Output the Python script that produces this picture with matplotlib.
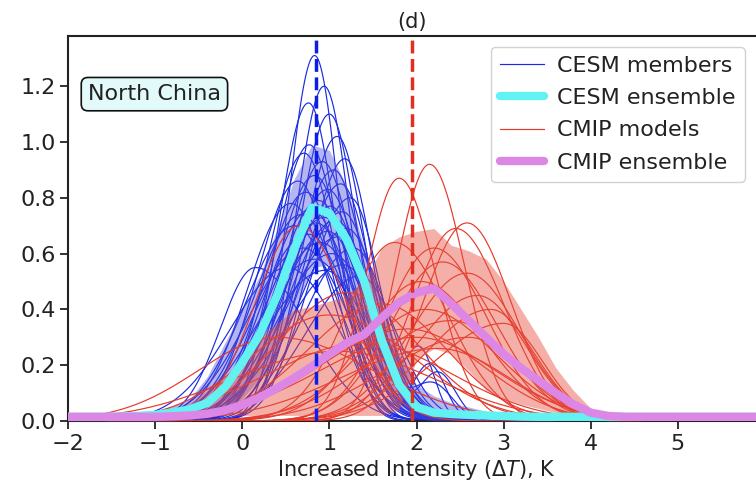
"""Intensity change distributions, North China panel (d)."""

import numpy as np
import matplotlib.pyplot as plt

# ── data ───────────────────────────────────────────────────────────
# ensemble curves and spread bands, tabulated every 0.2 K from -2 to 6
X_GRID = np.round(np.arange(-2.0, 6.01, 0.2), 1)

CESM_ENSEMBLE = [0.015, 0.015, 0.015, 0.016, 0.018,
                 0.022, 0.030, 0.042, 0.065, 0.120,
                 0.210, 0.310, 0.450, 0.620, 0.765,
                 0.745, 0.650, 0.500, 0.290, 0.130,
                 0.050, 0.030, 0.025, 0.022, 0.020,
                 0.018, 0.016, 0.015, 0.015, 0.015,
                 0.015, 0.015, 0.015, 0.015, 0.015,
                 0.015, 0.015, 0.015, 0.015, 0.015, 0.015]
CESM_BAND_HI = [0.015, 0.015, 0.018, 0.020, 0.025,
                0.035, 0.055, 0.080, 0.160, 0.280,
                0.400, 0.520, 0.690, 0.870, 0.990,
                0.970, 0.840, 0.620, 0.420, 0.240,
                0.130, 0.090, 0.065, 0.050, 0.035,
                0.020, 0.012, 0.006, 0.0, 0.0,
                0.0, 0.0, 0.0, 0.0, 0.0,
                0.0, 0.0, 0.0, 0.0, 0.0, 0.0]
CESM_BAND_LO = [0.0, 0.0, 0.0, 0.0, 0.0,
                0.0, 0.0, 0.0, 0.010, 0.030,
                0.080, 0.150, 0.260, 0.400, 0.550,
                0.560, 0.460, 0.320, 0.140, 0.040,
                0.010, 0.0, 0.0, 0.0, 0.0,
                0.0, 0.0, 0.0, 0.0, 0.0,
                0.0, 0.0, 0.0, 0.0, 0.0,
                0.0, 0.0, 0.0, 0.0, 0.0, 0.0]

CMIP_ENSEMBLE = [0.015, 0.015, 0.015, 0.015, 0.015,
                 0.015, 0.017, 0.020, 0.026, 0.038,
                 0.058, 0.085, 0.118, 0.155, 0.195,
                 0.240, 0.280, 0.310, 0.370, 0.425,
                 0.460, 0.475, 0.420, 0.360, 0.300,
                 0.240, 0.190, 0.145, 0.100, 0.060,
                 0.030, 0.018, 0.015, 0.015, 0.015,
                 0.015, 0.015, 0.015, 0.015, 0.015, 0.015]
CMIP_BAND_HI = [0.0, 0.0, 0.0, 0.005, 0.010,
                0.020, 0.035, 0.065, 0.110, 0.160,
                0.220, 0.300, 0.350, 0.400, 0.410,
                0.430, 0.450, 0.500, 0.620, 0.660,
                0.680, 0.690, 0.630, 0.610, 0.580,
                0.500, 0.400, 0.300, 0.190, 0.110,
                0.045, 0.015, 0.005, 0.0, 0.0,
                0.0, 0.0, 0.0, 0.0, 0.0, 0.0]
CMIP_BAND_LO = [0.0, 0.0, 0.0, 0.0, 0.0,
                0.0, 0.0, 0.005, 0.020, 0.020,
                0.020, 0.020, 0.020, 0.020, 0.020,
                0.020, 0.020, 0.020, 0.020, 0.040,
                0.220, 0.260, 0.240, 0.180, 0.110,
                0.080, 0.060, 0.045, 0.030, 0.020,
                0.010, 0.0, 0.0, 0.0, 0.0,
                0.0, 0.0, 0.0, 0.0, 0.0, 0.0]

# individual members: mode (K), peak density, left / right width (K)
CESM_MODE = [0.83, 0.94, 0.76, 1.00, 1.09, 0.77, 0.71, 1.18, 0.92, 1.05,
             0.83, 0.64, 1.13, 0.98, 0.73, 1.24, 0.88, 0.56, 1.01, 0.79,
             1.15, 0.68, 0.94, 1.07, 0.85, 0.60, 1.20, 0.98, 0.75, 1.10,
             0.15, 0.90, 1.28, 0.70, 1.03, 0.83, 1.16, 0.52, 0.95, 1.35]
CESM_PEAK = [1.31, 1.20, 1.14, 1.10, 1.02, 0.99, 0.96, 0.94, 0.93, 0.90,
             0.88, 0.86, 0.85, 0.83, 0.82, 0.80, 0.79, 0.78, 0.77, 0.76,
             0.75, 0.74, 0.73, 0.72, 0.71, 0.70, 0.69, 0.68, 0.67, 0.66,
             0.55, 0.64, 0.62, 0.62, 0.60, 0.58, 0.56, 0.55, 0.54, 0.52]
CESM_SDL = [0.30, 0.33, 0.35, 0.36, 0.40, 0.40, 0.42, 0.42, 0.43, 0.45,
            0.45, 0.47, 0.46, 0.48, 0.48, 0.48, 0.50, 0.50, 0.52, 0.52,
            0.52, 0.54, 0.54, 0.55, 0.56, 0.56, 0.56, 0.58, 0.58, 0.60,
            0.40, 0.60, 0.58, 0.62, 0.62, 0.65, 0.65, 0.65, 0.68, 0.62]
CESM_SDR = [0.28, 0.30, 0.32, 0.33, 0.33, 0.36, 0.38, 0.32, 0.38, 0.36,
            0.40, 0.40, 0.36, 0.40, 0.42, 0.34, 0.42, 0.45, 0.40, 0.44,
            0.38, 0.46, 0.44, 0.42, 0.46, 0.50, 0.40, 0.46, 0.50, 0.44,
            0.60, 0.50, 0.40, 0.52, 0.48, 0.52, 0.45, 0.58, 0.50, 0.42]
# secondary warm humps seen on a few members
CESM_BUMP_MEMBER = [8, 18, 27, 35]
CESM_BUMP_MODE = [2.15, 2.25, 2.05, 2.20]
CESM_BUMP_PEAK = [0.20, 0.17, 0.22, 0.12]
CESM_BUMP_SD = [0.18, 0.20, 0.16, 0.22]

CMIP_MODE = [2.15, 1.80, 0.65, 2.58, 2.45, 1.75, 2.20, 2.30, 2.58, 2.05,
             1.20, 2.10, 2.70, 1.60, 1.00, 2.40, 1.90, 2.85, 0.40, 2.00,
             1.40, 2.60, 3.00, 1.10, 2.25]
CMIP_PEAK = [0.92, 0.87, 0.70, 0.71, 0.69, 0.64, 0.62, 0.57, 0.53, 0.50,
             0.46, 0.40, 0.45, 0.42, 0.38, 0.36, 0.33, 0.40, 0.30, 0.30,
             0.28, 0.30, 0.35, 0.25, 0.26]
CMIP_SDL = [0.38, 0.38, 0.50, 0.50, 0.50, 0.55, 0.55, 0.60, 0.65, 0.65,
            0.80, 0.75, 0.70, 0.85, 0.90, 0.90, 1.00, 0.75, 0.90, 1.10,
            1.10, 0.95, 0.80, 1.20, 1.10]
CMIP_SDR = [0.40, 0.42, 0.55, 0.50, 0.55, 0.60, 0.60, 0.62, 0.60, 0.70,
            0.80, 0.80, 0.55, 0.75, 0.95, 0.70, 0.85, 0.50, 1.10, 0.90,
            1.00, 0.60, 0.45, 1.10, 0.80]

CESM_MEAN = 0.845
CMIP_MEAN = 1.95

BLUE = "#1a2be0"
RED = "#e5392b"
CYAN = "#62f2f2"
VIOLET = "#dc86e6"
INK = "#222222"


def member_curve(x, mode, peak, sdl, sdr):
    sd = np.where(x < mode, sdl, sdr)
    return peak * np.exp(-0.5 * ((x - mode) / sd) ** 2)


xs = np.linspace(-2, 6, 801)

fig = plt.figure(figsize=(7.56, 4.84), dpi=100)
# axes runs past the right edge of the canvas, as in the cropped original
ax = fig.add_axes([68 / 756, 63 / 484, 697 / 756, 385 / 484])

# CESM members + spread
for i, (m, p, sl, sr) in enumerate(zip(CESM_MODE, CESM_PEAK, CESM_SDL, CESM_SDR)):
    ys = member_curve(xs, m, p, sl, sr)
    if i in CESM_BUMP_MEMBER:
        k = CESM_BUMP_MEMBER.index(i)
        ys = ys + member_curve(xs, CESM_BUMP_MODE[k], CESM_BUMP_PEAK[k],
                               CESM_BUMP_SD[k], CESM_BUMP_SD[k])
    ax.plot(xs, ys, color=BLUE, lw=0.85, zorder=2,
            label="CESM members" if i == 0 else None)
ax.fill_between(X_GRID, CESM_BAND_LO, CESM_BAND_HI, color="#5050e0",
                alpha=0.42, lw=0, zorder=3)

# CMIP models + spread
for i, (m, p, sl, sr) in enumerate(zip(CMIP_MODE, CMIP_PEAK, CMIP_SDL, CMIP_SDR)):
    ax.plot(xs, member_curve(xs, m, p, sl, sr), color=RED, lw=0.85, zorder=4,
            label="CMIP models" if i == 0 else None)
ax.fill_between(X_GRID, CMIP_BAND_LO, CMIP_BAND_HI, color="#e8503f",
                alpha=0.45, lw=0, zorder=5)

ax.plot(X_GRID, CESM_ENSEMBLE, color=CYAN, lw=6, zorder=6,
        solid_capstyle="round", label="CESM ensemble")
ax.plot(X_GRID, CMIP_ENSEMBLE, color=VIOLET, lw=6, zorder=7,
        solid_capstyle="round", label="CMIP ensemble")

ax.axvline(CESM_MEAN, color="#0a1ee8", ls="--", lw=2.5, zorder=9)
ax.axvline(CMIP_MEAN, color="#e0301f", ls="--", lw=2.5, zorder=9)

ax.set_xlim(-2, 6)
ax.set_ylim(0, 1.38)
ax.set_xticks(range(-2, 6))
ax.set_yticks(np.arange(0, 1.21, 0.2))
ax.tick_params(labelsize=16, length=6, width=1.3, colors=INK, pad=3)
for s in ax.spines.values():
    s.set_linewidth(1.5)
    s.set_color(INK)

ax.set_xlabel(r"Increased Intensity ($\Delta T$), K", fontsize=15,
              color=INK, labelpad=3)
ax.set_title("(d)", fontsize=15, color=INK, pad=6, x=0.493)

ax.text(0.124, 0.849, "North China", transform=ax.transAxes, fontsize=16,
        ha="center", va="center", color=INK, zorder=12,
        bbox=dict(boxstyle="round,pad=0.3", facecolor="#e2fafa",
                  edgecolor="#111111", lw=1.2))

handles, labels = ax.get_legend_handles_labels()
order = ["CESM members", "CESM ensemble", "CMIP models", "CMIP ensemble"]
hmap = dict(zip(labels, handles))
leg = ax.legend([hmap[k] for k in order], order, loc="upper right",
                bbox_to_anchor=(0.971, 0.971), borderaxespad=0, fontsize=16,
                handlelength=2.0, handletextpad=0.6, labelspacing=0.55,
                borderpad=0.4, framealpha=0.9, edgecolor="#cccccc")
leg.set_zorder(20)
for t in leg.get_texts():
    t.set_color(INK)

fig.savefig("out.png", dpi=100)
